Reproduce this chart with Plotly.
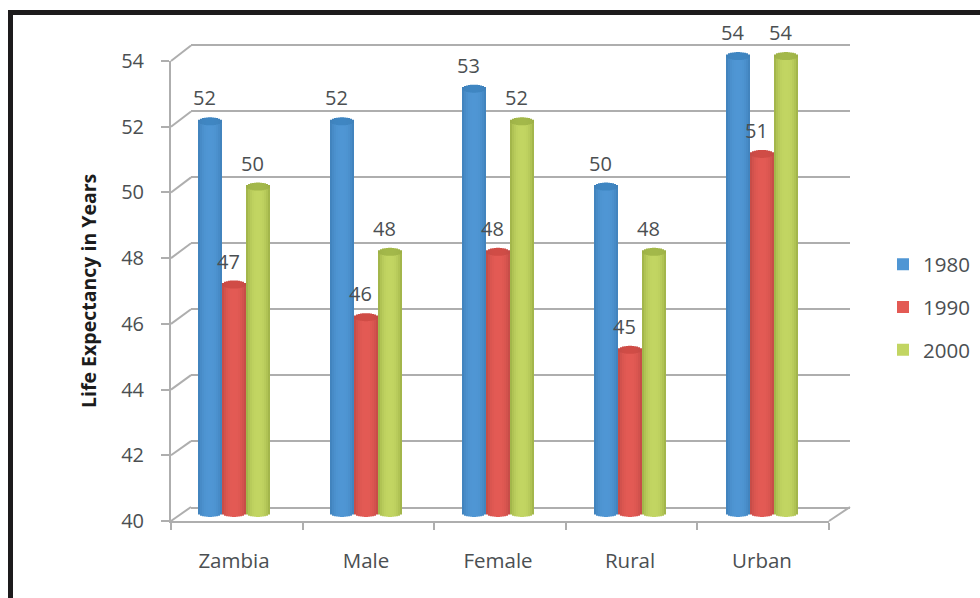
import math
import plotly.graph_objects as go

# Life expectancy data
categories = ["Zambia", "Male", "Female", "Rural", "Urban"]
years = ["1980", "1990", "2000"]
values_1980 = [52, 52, 53, 50, 54]
values_1990 = [47, 46, 48, 45, 51]
values_2000 = [50, 48, 52, 48, 54]
y_ticks = [40, 42, 44, 46, 48, 50, 52, 54]

# Fill colours per series: (centre, edge, cap)
palette_1980 = ("#4f96d4", "#3f7fb8", "#3f86c2")
palette_1990 = ("#e35a54", "#c04a45", "#d04c46")
palette_2000 = ("#c2d562", "#9bae45", "#a3b84a")

W, H = 980, 598
GRID = "#aeaeae"
TEXT = "#4b4f52"
FONT = "Open Sans"

def fx(px):
    return px / W

def fy(py):
    return 1 - py / H

def mix(a, b, t):
    ca = [int(a[i:i + 2], 16) for i in (1, 3, 5)]
    cb = [int(b[i:i + 2], 16) for i in (1, 3, 5)]
    return "rgb(%d,%d,%d)" % tuple(round(p + (q - p) * t) for p, q in zip(ca, cb))

# Bar plane scale: one category is 132 px wide, one year of life is about 32.6 px tall
STRIPS = 12
BAR_UNITS = 24 / 132
CAP_UNITS = 4 / 32.6

fig = go.Figure()

# Back wall: gridlines only
fig.add_trace(go.Scatter(x=[None], y=[None], xaxis="x", yaxis="y", showlegend=False, hoverinfo="skip"))
# Front plane: carries the tick labels and the floor edge
fig.add_trace(go.Scatter(x=[None], y=[None], xaxis="x2", yaxis="y2", showlegend=False, hoverinfo="skip"))

# Each cylinder is built from narrow strips so it shades from centre to edge
series = [(years[0], values_1980, palette_1980, -1),
          (years[1], values_1990, palette_1990, 0),
          (years[2], values_2000, palette_2000, 1)]
order = sorted(range(STRIPS), key=lambda k: abs(k - (STRIPS - 1) / 2))
for name, vals, (centre, edge, cap), slot in series:
    bx, by, bb, bc, cy, cb, cc = [], [], [], [], [], [], []
    for i, v in enumerate(vals):
        for k in order:
            u = (k + 0.5) / STRIPS * 2 - 1
            dy = CAP_UNITS * math.sqrt(1 - u * u)
            bx.append(i + 0.5 + (slot + u / 2) * BAR_UNITS)
            bb.append(40 - dy)
            by.append(v - (40 - dy))
            bc.append(mix(centre, edge, abs(u) ** 2.6))
            cb.append(v - dy)
            cy.append(2 * dy)
            cc.append(mix(cap, edge, abs(u) ** 3))
    width = BAR_UNITS / STRIPS
    fig.add_trace(go.Bar(x=bx, y=by, base=bb, width=width, name=name, legendgroup=name,
                         marker=dict(color=bc, line=dict(width=0)),
                         xaxis="x3", yaxis="y3", hoverinfo="skip"))
    fig.add_trace(go.Bar(x=bx, y=cy, base=cb, width=width, legendgroup=name, showlegend=False,
                         marker=dict(color=cc, line=dict(width=0)),
                         xaxis="x3", yaxis="y3", hoverinfo="skip"))

# Value labels sit above and slightly left of each cylinder
annotations = []
for name, vals, _, slot in series:
    for i, v in enumerate(vals):
        annotations.append(dict(x=i + 0.5 + slot * BAR_UNITS, y=v, xref="x3", yref="y3", text=str(v),
                                showarrow=False, xshift=-5.5, yshift=23.5,
                                font=dict(family=FONT, size=20, color=TEXT)))

annotations.append(dict(x=fx(88), y=fy(291), xref="paper", yref="paper", xanchor="center", yanchor="middle",
                        text="<b>Life Expectancy in Years</b>", textangle=-90, showarrow=False,
                        font=dict(family=FONT, size=19.5, color="#1c1c1c")))

# Left wall and floor connectors between the front plane and the back wall
def wall_px(v, y40, y54):
    return y40 + (v - 40) * (y54 - y40) / 14

shapes = []
for v in y_ticks:
    shapes.append(dict(type="line", xref="paper", yref="paper", layer="below",
                       x0=fx(171), y0=fy(wall_px(v, 521, 61)),
                       x1=fx(191), y1=fy(wall_px(v, 507, 45.5)),
                       line=dict(color=GRID, width=2)))
shapes.append(dict(type="line", xref="paper", yref="paper", layer="below",
                   x0=fx(829), y0=fy(521), x1=fx(850), y1=fy(507), line=dict(color=GRID, width=2)))
# Page frame
shapes.append(dict(type="rect", xref="paper", yref="paper", layer="above", x0=fx(8), x1=1,
                   y0=fy(15), y1=fy(10), fillcolor="#1d1b1c", line=dict(width=0)))
shapes.append(dict(type="rect", xref="paper", yref="paper", layer="above", x0=fx(8), x1=fx(13),
                   y0=0, y1=fy(10), fillcolor="#1d1b1c", line=dict(width=0)))

fig.update_layout(
    width=W, height=H, margin=dict(l=0, r=0, t=0, b=0, autoexpand=False), autosize=False,
    paper_bgcolor="white", plot_bgcolor="rgba(0,0,0,0)",
    barmode="overlay", shapes=shapes, annotations=annotations,
    font=dict(family=FONT, color=TEXT),
    legend=dict(x=fx(883), y=fy(244.5), xanchor="left", yanchor="top", traceorder="grouped",
                tracegroupgap=13, font=dict(family=FONT, size=20.5, color=TEXT),
                bgcolor="rgba(0,0,0,0)", itemclick=False, itemdoubleclick=False),
    # Back wall: the x axis line and its mirror close the top and bottom of the wall
    xaxis=dict(domain=[fx(191), fx(850)], range=[0, 5], showticklabels=False, ticks="",
               showgrid=False, zeroline=False, showline=True, mirror=True, linecolor=GRID, linewidth=2,
               anchor="y"),
    yaxis=dict(domain=[fy(507), fy(45.5)], range=[40, 54], tickvals=y_ticks, showticklabels=False,
               ticks="", showgrid=True, gridcolor=GRID, gridwidth=2, zeroline=False,
               showline=False, anchor="x"),
    # Front plane
    xaxis2=dict(domain=[fx(171), fx(829)], range=[0, 5], tickvals=[0, 1, 2, 3, 4, 5], showticklabels=False,
                ticks="outside", ticklen=7, tickwidth=2, tickcolor=GRID, showgrid=False, zeroline=False,
                showline=True, linecolor=GRID, linewidth=2, anchor="y2"),
    yaxis2=dict(domain=[fy(521), fy(61)], range=[40, 54], tickvals=y_ticks, ticks="outside", ticklen=8,
                tickwidth=2, tickcolor=GRID, showgrid=False, zeroline=False, showline=True,
                linecolor=GRID, linewidth=2, anchor="x2", ticklabelstandoff=13,
                tickfont=dict(family=FONT, size=20, color=TEXT)),
    # Cylinder plane: also carries the category names
    xaxis3=dict(domain=[fx(168), fx(828)], range=[0, 5], tickvals=[0.5, 1.5, 2.5, 3.5, 4.5],
                ticktext=categories, ticks="", showgrid=False, zeroline=False, showline=False,
                anchor="y3", ticklabelstandoff=17, tickfont=dict(family=FONT, size=20.5, color=TEXT)),
    yaxis3=dict(domain=[fy(529.3), fy(39.7)], range=[39.5, 54.5], showticklabels=False, ticks="",
                showgrid=False, zeroline=False, showline=False, anchor="x3"),
)

fig.write_html("out.html", config=dict(displayModeBar=False))
